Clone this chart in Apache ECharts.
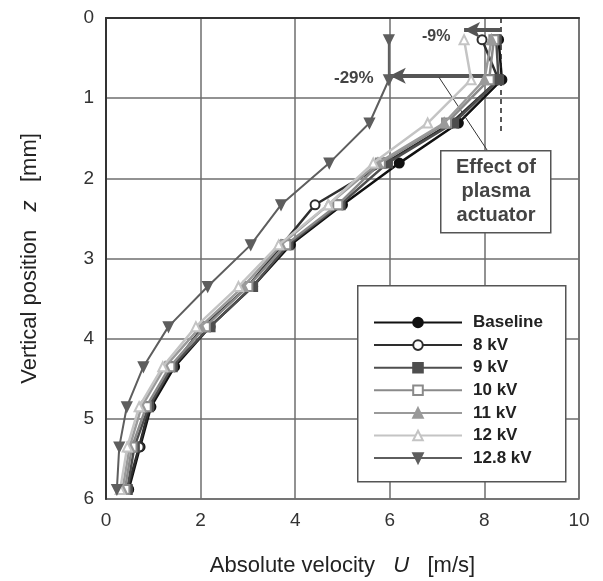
<!DOCTYPE html>
<html>
<head>
<meta charset="utf-8">
<script src="https://cdn.jsdelivr.net/npm/echarts@6/dist/echarts.min.js"></script>
<style>
html,body{margin:0;padding:0;background:#fff;}
#chart{width:603px;height:581px;}
</style>
</head>
<body>
<div id="chart"></div>
<script>
// z positions (mm)
const zLevels = [0.27, 0.77, 1.31, 1.81, 2.33, 2.83, 3.35, 3.85, 4.35, 4.85, 5.35, 5.88];
const seriesNames = ['Baseline', '8 kV', '9 kV', '10 kV', '11 kV', '12 kV', '12.8 kV'];
// velocity U (m/s) per series at each z
const uBaseline = [8.30, 8.37, 7.45, 6.20, 5.00, 3.90, 3.10, 2.20, 1.45, 0.95, 0.72, 0.48];
const u8kV      = [7.95, 8.30, 7.30, 5.90, 4.42, 3.72, 3.00, 2.05, 1.40, 0.92, 0.70, 0.45];
const u9kV      = [8.25, 8.30, 7.35, 5.95, 4.95, 3.85, 3.10, 2.20, 1.40, 0.90, 0.60, 0.45];
const u10kV     = [8.20, 8.10, 7.20, 5.80, 4.90, 3.80, 3.00, 2.10, 1.35, 0.85, 0.55, 0.40];
const u11kV     = [8.15, 8.00, 7.15, 5.75, 4.70, 3.70, 2.90, 2.00, 1.25, 0.75, 0.50, 0.35];
const u12kV     = [7.57, 7.72, 6.80, 5.65, 4.70, 3.65, 2.80, 1.90, 1.20, 0.70, 0.45, 0.30];
const u128kV    = [5.98, 5.98, 5.57, 4.72, 3.70, 3.06, 2.15, 1.32, 0.79, 0.44, 0.28, 0.23];
const xTicks = [0, 2, 4, 6, 8, 10];
const yTicks = [0, 1, 2, 3, 4, 5, 6];
// annotation values (data coords)
const refU = 8.35;
const dashEndZ = 1.46;
const arrow9 = {z: 0.15, from: 8.35, to: 7.57, label: '-9%'};
const arrow29 = {z: 0.72, from: 8.35, to: 6.0, label: '-29%'};
const boxText = 'Effect of\nplasma\nactuator';

const allU = [uBaseline, u8kV, u9kV, u10kV, u11kV, u12kV, u128kV];
const colors = ['#111111', '#2e2e2e', '#4e4e4e', '#8a8a8a', '#9a9a9a', '#c4c4c4', '#5e5e5e'];
const symbols = ['circle', 'emptyCircle', 'rect', 'emptyRect', 'triangle', 'emptyTriangle', 'triangle'];
const rotates = [0, 0, 0, 0, 0, 0, 180];
const widths = [2.5, 2.5, 2.5, 2.5, 2.5, 2.5, 2];
const FONT = 'Liberation Sans, Arial';

const chart = echarts.init(document.getElementById('chart'));
const series = seriesNames.map((n, i) => ({
  name: n,
  type: 'line',
  data: allU[i].map((u, k) => [u, zLevels[k]]),
  symbol: symbols[i],
  symbolRotate: rotates[i],
  symbolSize: 9,
  showSymbol: true,
  color: colors[i],
  lineStyle: {width: widths[i], color: colors[i]},
  itemStyle: {color: colors[i], borderColor: colors[i], borderWidth: 2},
  z: 3 + i,
  animation: false
}));
// annotation series
series.push({
  type: 'line',
  data: [],
  silent: true,
  animation: false,
  z: 20,
  markLine: {
    silent: true,
    animation: false,
    label: {show: false},
    symbol: ['none', 'none'],
    data: [
      [{coord: [refU, 0], lineStyle: {type: [5, 4], color: '#222', width: 1.5}},
       {coord: [refU, dashEndZ]}],
      [{coord: [arrow9.from, arrow9.z], symbol: 'none', lineStyle: {type: 'solid', color: '#555', width: 4}},
       {coord: [arrow9.to, arrow9.z], symbol: 'arrow', symbolSize: [12, 16]}],
      [{coord: [arrow29.from, arrow29.z], symbol: 'none', lineStyle: {type: 'solid', color: '#555', width: 4}},
       {coord: [arrow29.to, arrow29.z], symbol: 'arrow', symbolSize: [12, 16]}],
      [{coord: [7.04, 0.74], lineStyle: {type: 'solid', color: '#333', width: 1}},
       {coord: [8.06, 1.65]}]
    ]
  }
});

const titleStyle = {fontFamily: FONT, fontSize: 22, color: '#222',
  rich: {i: {fontStyle: 'italic', fontFamily: FONT, fontSize: 22, color: '#222'}}};

chart.setOption({
  animation: false,
  grid: {left: 106, top: 18, width: 473, height: 481, show: true, borderColor: '#666', borderWidth: 1.5,
    containLabel: false, outerBoundsMode: 'none'},
  xAxis: {
    type: 'value', min: 0, max: 10, interval: 2,
    name: 'Absolute velocity   {i|U}   [m/s]',
    nameLocation: 'middle', nameGap: 56,
    nameTextStyle: titleStyle,
    axisLine: {show: true, lineStyle: {color: '#333', width: 2}},
    axisTick: {show: false},
    axisLabel: {fontFamily: FONT, fontSize: 19, color: '#333', margin: 12,
      formatter: v => xTicks.includes(v) ? String(v) : ''},
    splitLine: {show: true, lineStyle: {color: '#6e6e6e', width: 1.5}}
  },
  yAxis: {
    type: 'value', min: 0, max: 6, interval: 1, inverse: true,
    name: 'Vertical position   {i|z}   [mm]',
    nameLocation: 'middle', nameGap: 65, nameRotate: 90,
    nameTextStyle: titleStyle,
    axisLine: {show: true, onZero: false, lineStyle: {color: '#333', width: 2}},
    axisTick: {show: false},
    axisLabel: {fontFamily: FONT, fontSize: 19, color: '#333', margin: 12,
      formatter: v => yTicks.includes(v) ? String(v) : ''},
    splitLine: {show: true, lineStyle: {color: '#6e6e6e', width: 1.5}}
  },
  legend: {
    data: seriesNames,
    orient: 'vertical',
    left: 368, top: 309,
    itemWidth: 88, itemHeight: 12, itemGap: 5.6,
    textStyle: {fontFamily: FONT, fontSize: 17, fontWeight: 'bold', color: '#222', padding: [0, 0, 0, 6]},
    backgroundColor: 'transparent',
    z: 30
  },
  graphic: [
    {type: 'rect', left: 357, top: 285, z: 25,
      shape: {width: 208, height: 196},
      style: {fill: '#fff', stroke: '#555', lineWidth: 1.5}},
    {type: 'rect', left: 440, top: 150, z: 25,
      shape: {width: 110, height: 82},
      style: {fill: '#fff', stroke: '#555', lineWidth: 1.5}},
    {type: 'text', x: 496, y: 155, z: 26,
      style: {text: boxText, align: 'center', verticalAlign: 'top', fill: '#444',
        font: 'bold 20px "Liberation Sans", Arial', lineHeight: 24}},
    {type: 'text', x: 422, y: 29, z: 26,
      style: {text: arrow9.label, fill: '#444', font: 'bold 16px "Liberation Sans", Arial'}},
    {type: 'text', x: 334, y: 70, z: 26,
      style: {text: arrow29.label, fill: '#444', font: 'bold 17px "Liberation Sans", Arial'}}
  ],
  series: series
});
</script>
</body>
</html>
